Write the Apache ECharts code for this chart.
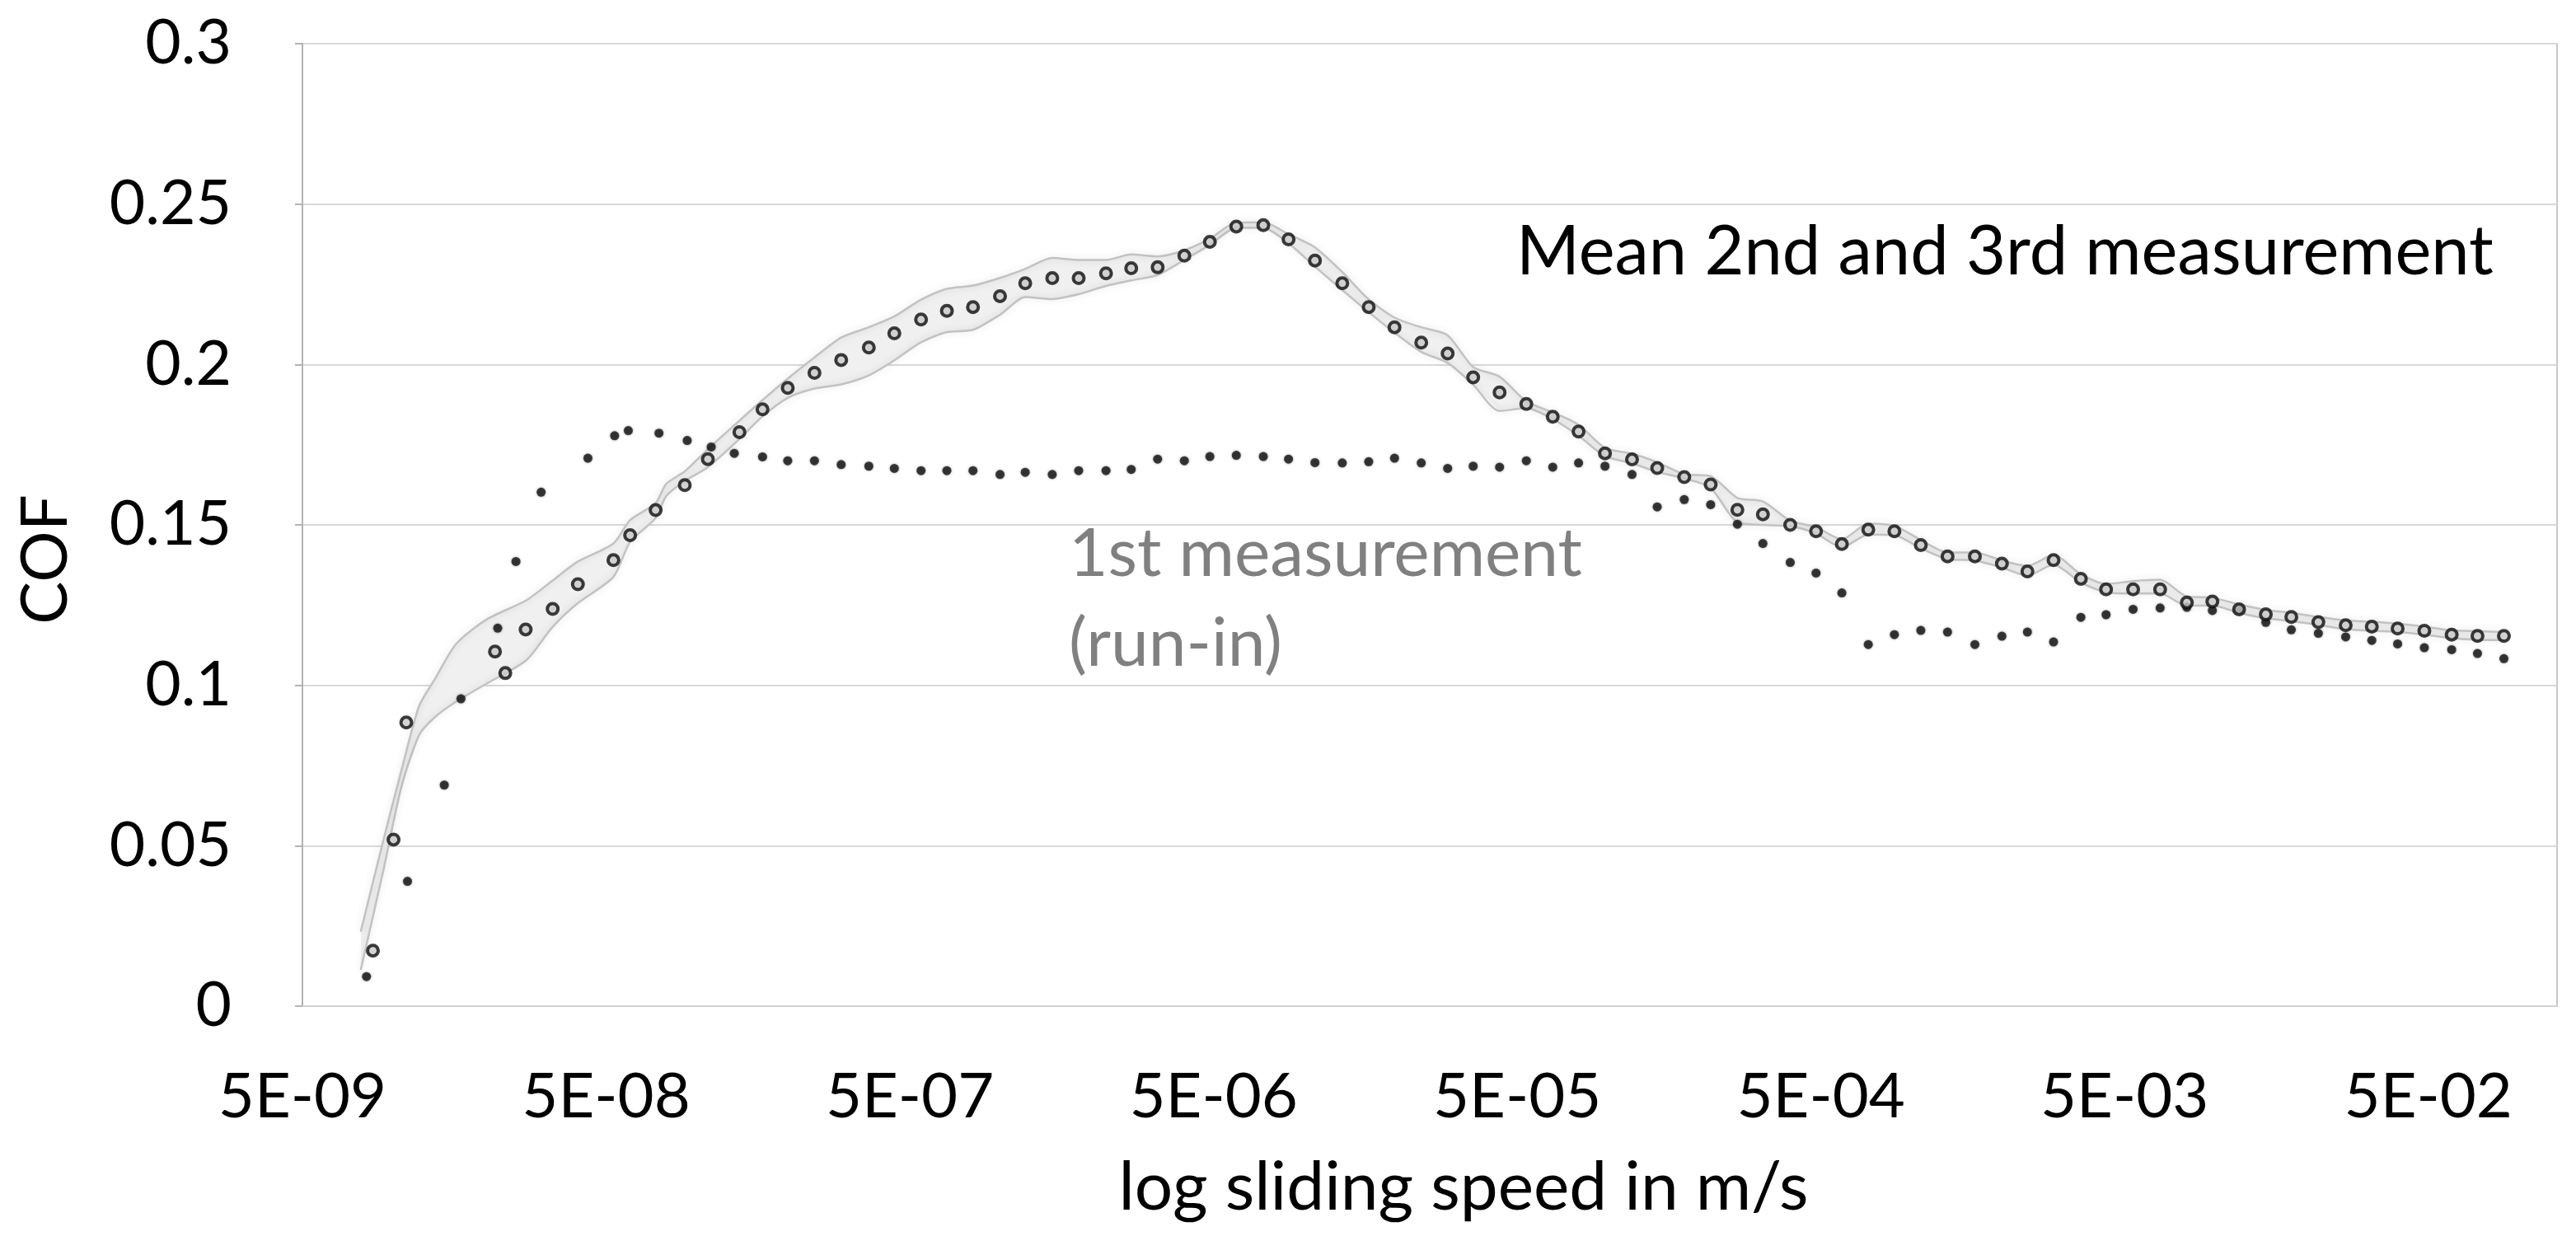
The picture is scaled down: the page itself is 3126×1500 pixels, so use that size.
<!DOCTYPE html>
<html>
<head>
<meta charset="utf-8">
<script src="https://cdn.jsdelivr.net/npm/echarts@6/dist/echarts.min.js"></script>
<style>
html,body{margin:0;padding:0;background:#ffffff;}
#chart{width:3126px;height:1500px;}
</style>
</head>
<body>
<div id="chart"></div>
<script>
// ---- tick labels ----
const xTickLabels = ['5E-09','5E-08','5E-07','5E-06','5E-05','5E-04','5E-03','5E-02'];
const yTickValues = [0, 0.05, 0.1, 0.15, 0.2, 0.25, 0.3];

// ---- Mean of 2nd and 3rd measurement (log10 of sliding speed in m/s, COF) ----
const meanLogSpeed = [-8.069,-8.001,-7.959,-7.667,-7.633,-7.566,-7.477,-7.394,-7.277,-7.222,-7.138,-7.042,-6.966,
  -6.862,-6.786,-6.703,-6.615,-6.527,-6.436,-6.352,-6.264,-6.179,-6.093,-6.004,-5.921,-5.832,-5.745,-5.655,-5.572,
  -5.485,-5.397,-5.313,-5.226,-5.137,-5.054,-4.967,-4.877,-4.790,-4.705,-4.617,-4.530,-4.446,-4.359,-4.271,-4.184,
  -4.099,-4.012,-3.923,-3.840,-3.751,-3.664,-3.576,-3.492,-3.402,-3.317,-3.232,-3.145,-3.059,-2.972,-2.884,-2.794,
  -2.705,-2.621,-2.535,-2.445,-2.362,-2.273,-2.184,-2.096,-2.012,-1.924,-1.836,-1.752,-1.663,-1.573,-1.487,-1.402,
  -1.314,-1.224,-1.139,-1.052];
const meanCOF = [0.0173,0.0519,0.0884,0.1105,0.1038,0.1174,0.1238,0.1315,0.1390,0.1468,0.1546,0.1624,0.1705,
  0.1789,0.1860,0.1927,0.1974,0.2014,0.2053,0.2097,0.2140,0.2167,0.2179,0.2213,0.2253,0.2269,0.2269,0.2284,0.2300,
  0.2303,0.2339,0.2382,0.2430,0.2434,0.2390,0.2324,0.2253,0.2179,0.2116,0.2068,0.2034,0.1960,0.1913,0.1877,0.1837,
  0.1791,0.1723,0.1704,0.1677,0.1649,0.1626,0.1547,0.1533,0.1500,0.1480,0.1440,0.1485,0.1480,0.1437,0.1402,0.1402,
  0.1379,0.1355,0.1390,0.1332,0.1299,0.1299,0.1299,0.1258,0.1261,0.1237,0.1221,0.1213,0.1197,0.1187,0.1183,0.1177,
  0.1170,0.1158,0.1154,0.1154];

// ---- 1st measurement (run-in) ----
const runInLogSpeedStart = [-8.090,-7.955,-7.834,-7.779,-7.658,-7.598,-7.515,-7.361,-7.273,-7.228,-7.127,-7.034,-6.955,-6.879];
const runInCOF = [0.0092,0.0389,0.0689,0.0958,0.1178,0.1386,0.1602,0.1708,0.1778,0.1794,0.1786,0.1763,0.1743,0.1723,
  0.1712,0.1700,0.1700,0.1688,0.1683,0.1676,0.1669,0.1669,0.1669,0.1657,0.1664,0.1657,0.1669,0.1669,0.1673,0.1705,
  0.1700,0.1713,0.1717,0.1713,0.1705,0.1694,0.1693,0.1697,0.1708,0.1693,0.1676,0.1683,0.1680,0.1700,0.1680,0.1693,
  0.1683,0.1657,0.1556,0.1579,0.1563,0.1502,0.1442,0.1383,0.1350,0.1288,0.1127,0.1158,0.1171,0.1166,0.1127,0.1153,
  0.1166,0.1135,0.1212,0.1220,0.1237,0.1241,0.1243,0.1233,0.1235,0.1196,0.1173,0.1162,0.1151,0.1140,0.1129,0.1117,
  0.1111,0.1099,0.1083];

// ---- band spanned by 2nd and 3rd measurement ----
const bandLogSpeedStart = [-8.109,-8.034,-7.975,-7.917,-7.867,-7.795,-7.695,-7.564,-7.478,-7.397,-7.277,-7.222,-7.138,-7.103,-7.042,-6.966];
const bandUpper = [0.0232,0.0519,0.0735,0.0935,0.1016,0.1129,0.1205,0.1265,0.1326,0.1384,0.1442,0.1515,0.1568,0.1628,0.1667,0.1736,
  0.1825,0.1889,0.1956,0.2022,0.2084,0.2116,0.2150,0.2202,0.2236,0.2246,0.2270,0.2298,0.2332,0.2326,0.2326,0.2343,
  0.2337,0.2356,0.2392,0.2442,0.2443,0.2406,0.2365,0.2288,0.2203,0.2146,0.2116,0.2091,0.1992,0.1962,0.1885,0.1851,
  0.1812,0.1740,0.1722,0.1695,0.1658,0.1652,0.1584,0.1573,0.1513,0.1493,0.1455,0.1504,0.1497,0.1453,0.1414,0.1414,
  0.1389,0.1372,0.1406,0.1346,0.1316,0.1325,0.1329,0.1277,0.1273,0.1252,0.1235,0.1226,0.1213,0.1202,0.1198,0.1192,
  0.1183,0.1171,0.1169,0.1166];
const bandLower = [0.0113,0.0425,0.0684,0.0844,0.0899,0.0949,0.1005,0.1078,0.1181,0.1254,0.1338,0.1447,0.1521,0.1590,0.1637,0.1680,
  0.1768,0.1838,0.1896,0.1925,0.1938,0.1966,0.2013,0.2069,0.2101,0.2108,0.2155,0.2210,0.2204,0.2219,0.2245,0.2262,
  0.2279,0.2326,0.2373,0.2426,0.2426,0.2378,0.2305,0.2232,0.2163,0.2099,0.2039,0.2005,0.1937,0.1855,0.1864,0.1830,
  0.1778,0.1714,0.1692,0.1665,0.1645,0.1615,0.1508,0.1500,0.1496,0.1473,0.1430,0.1470,0.1468,0.1427,0.1393,0.1389,
  0.1367,0.1342,0.1376,0.1320,0.1290,0.1286,0.1286,0.1248,0.1248,0.1226,0.1209,0.1200,0.1188,0.1175,0.1170,0.1166,
  0.1158,0.1147,0.1142,0.1141];

// ---- derived ----
const LOG_MIN = Math.log10(5e-9);      // left edge of the axis = 5E-09
const DECADES_SHOWN = 7.424;           // axis spans about 7.4 decades
const runInLogSpeed = runInLogSpeedStart.concat(meanLogSpeed.slice(14));
const bandLogSpeed = bandLogSpeedStart.concat(meanLogSpeed.slice(13));
const toX = v => v - LOG_MIN;          // decades above 5E-09

const meanData = meanLogSpeed.map((v, i) => [toX(v), meanCOF[i]]);
const runInData = runInLogSpeed.map((v, i) => [toX(v), runInCOF[i]]);
const bandLowData = bandLogSpeed.map((v, i) => [toX(v), bandLower[i]]);
const bandUpData = bandLogSpeed.map((v, i) => [toX(v), bandUpper[i]]);

const FONT = 'Lato';
const bandLine = {color: '#c2c2c2', width: 2.5, shadowBlur: 10, shadowColor: 'rgba(0,0,0,0.14)'};
const chart = echarts.init(document.getElementById('chart'), null, {renderer: 'canvas'});
chart.setOption({
  backgroundColor: '#ffffff',
  animation: false,
  grid: {left: 367, right: 23, top: 53, bottom: 279, show: true, borderColor: '#c8c8c8', borderWidth: 2},
  xAxis: {
    type: 'value', min: 0, max: DECADES_SHOWN, interval: 1,
    name: 'log sliding speed in m/s', nameLocation: 'middle', nameGap: 180,
    nameTextStyle: {fontFamily: FONT, fontSize: 82, color: '#000', padding: [0, 0, 0, 82]},
    axisLine: {show: true, lineStyle: {color: '#d0d0d0', width: 2}},
    axisTick: {show: false},
    splitLine: {show: false},
    axisLabel: {
      fontFamily: FONT, fontSize: 76, color: '#000', margin: 72, showMaxLabel: false,
      formatter: v => (Math.abs(v - Math.round(v)) < 1e-6 && xTickLabels[Math.round(v)]) ? xTickLabels[Math.round(v)] : ''
    }
  },
  yAxis: {
    type: 'value', min: yTickValues[0], max: yTickValues[yTickValues.length - 1], interval: 0.05,
    name: 'COF', nameLocation: 'middle', nameRotate: 90, nameGap: 272,
    nameTextStyle: {fontFamily: FONT, fontSize: 78, color: '#000', padding: [0, 84, 0, 0]},
    axisLine: {show: true, lineStyle: {color: '#b3b3b3', width: 2}},
    axisTick: {show: true, inside: false, length: 9, lineStyle: {color: '#b3b3b3', width: 2}},
    splitLine: {show: true, lineStyle: {color: '#d9d9d9', width: 2}},
    axisLabel: {fontFamily: FONT, fontSize: 75, color: '#000', margin: 86}
  },
  series: [
    {
      name: 'band fill', type: 'custom', z: 1, silent: true,
      data: [bandLowData[0]],
      renderItem: (params, api) => {
        const pts = [];
        for (let i = 0; i < bandUpData.length; i++) pts.push(api.coord(bandUpData[i]));
        for (let i = bandLowData.length - 1; i >= 0; i--) pts.push(api.coord(bandLowData[i]));
        return {type: 'polygon', shape: {points: pts}, style: {fill: '#f0f0f0'}};
      }
    },
    {
      name: 'band lower', type: 'line', data: bandLowData, smooth: 0.25,
      showSymbol: false, symbol: 'none', z: 2, lineStyle: bandLine
    },
    {
      name: 'band upper', type: 'line', data: bandUpData, smooth: 0.25,
      showSymbol: false, symbol: 'none', z: 2, lineStyle: bandLine
    },
    {
      name: '1st measurement (run-in)', type: 'scatter', data: runInData, z: 4,
      symbol: 'circle', symbolSize: 11,
      itemStyle: {color: '#151515', shadowBlur: 3, shadowColor: 'rgba(0,0,0,0.5)'}
    },
    {
      name: 'Mean 2nd and 3rd measurement', type: 'scatter', data: meanData, z: 5,
      symbol: 'circle', symbolSize: 13,
      itemStyle: {color: '#c8c8c8', borderColor: '#0d0d0d', borderWidth: 4}
    }
  ],
  graphic: [
    {type: 'text', left: 1840, top: 265, z: 10,
     style: {text: 'Mean 2nd and 3rd measurement', fontFamily: FONT, fontSize: 83, fill: '#000'}},
    {type: 'text', left: 1297, top: 618, z: 10,
     style: {text: '1st measurement\n(run-in)', fontFamily: FONT, fontSize: 82, lineHeight: 109, fill: '#808080'}}
  ]
});
</script>
</body>
</html>
